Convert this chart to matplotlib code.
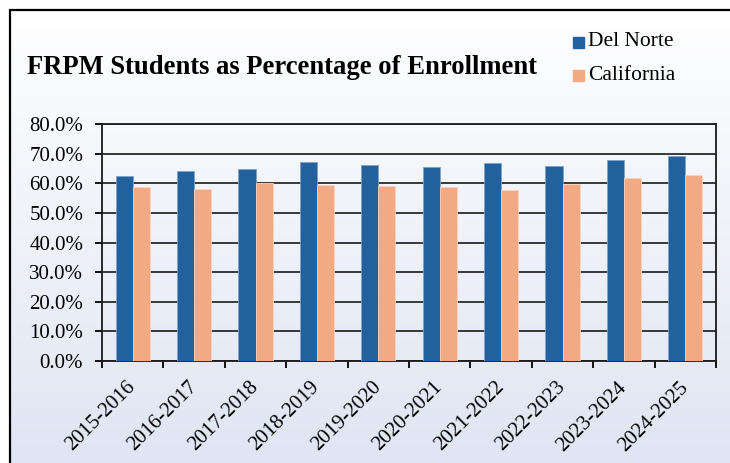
import numpy as np
import matplotlib
matplotlib.use("Agg")
import matplotlib.pyplot as plt
from matplotlib.patches import Rectangle
from matplotlib.colors import LinearSegmentedColormap

# data (percent)
years = ["2015-2016", "2016-2017", "2017-2018", "2018-2019", "2019-2020",
         "2020-2021", "2021-2022", "2022-2023", "2023-2024", "2024-2025"]
del_norte = [62.6, 64.1, 64.9, 67.2, 66.3, 65.4, 66.8, 65.8, 68.0, 69.1]
california = [58.9, 58.0, 60.0, 59.3, 59.2, 58.9, 57.8, 59.9, 61.7, 62.9]

blue = "#23609e"
peach = "#f2aa84"

plt.rcParams["font.family"] = ["Liberation Serif", "DejaVu Serif"]

W, H = 730, 463
fig = plt.figure(figsize=(W / 100, H / 100), dpi=100)

# gradient background inside the frame
bg = fig.add_axes([0, 0, 1, 1])
bg.set_xlim(0, W)
bg.set_ylim(H, 0)
bg.axis("off")
cmap = LinearSegmentedColormap.from_list("bg", ["#ffffff", "#dfe5f3"])
grad = np.linspace(0, 1, 256).reshape(-1, 1)
bg.imshow(grad, cmap=cmap, extent=[10, W, H, 10], aspect="auto", zorder=0)
bg.plot([10, 10, W], [H, 10, 10], color="black", lw=1.6, zorder=1,
        solid_capstyle="butt", solid_joinstyle="miter")

# plot area in pixels: left 102, right 716, top 124, bottom 361
ax = fig.add_axes([102 / W, 1 - 361 / H, (716 - 102) / W, (361 - 124) / H])
ax.patch.set_alpha(0)

x = np.arange(len(years))
bw = 0.28
ax.bar(x - bw / 2, del_norte, bw, color=blue, edgecolor="#7fa3c9",
       linewidth=0.6, zorder=3)
ax.bar(x + bw / 2, california, bw, color=peach, edgecolor="#f8d3c0",
       linewidth=0.6, zorder=3)

ax.set_xlim(-0.5, len(years) - 0.5)
ax.set_ylim(0, 80)
ax.set_yticks(np.arange(0, 81, 10))
ax.set_yticklabels(["%.1f%%" % v for v in np.arange(0, 81, 10)], fontsize=15)
ax.yaxis.grid(True, color="#2a2a2a", lw=1.3, zorder=1)
ax.set_axisbelow(True)

ax.set_xticks(np.arange(-0.5, len(years), 1.0))
ax.set_xticklabels([])
ax.set_xticks(x, minor=True)
ax.set_xticklabels(years, minor=True, rotation=45, ha="right", va="center",
                   rotation_mode="anchor", fontsize=15)
ax.tick_params(axis="x", which="minor", length=0, pad=17)
ax.tick_params(axis="x", which="major", length=5, width=1.3, direction="out")
ax.tick_params(axis="y", length=5, width=1.3, direction="out", pad=8.5)
for s in ax.spines.values():
    s.set_color("#1a1a1a")
    s.set_linewidth(1.3)

fig.text(27 / W, 1 - 68 / H, "FRPM Students as Percentage of Enrollment",
         fontsize=19.2, fontweight="bold", ha="left", va="center")

# legend
for i, (lab, col) in enumerate([("Del Norte", blue), ("California", peach)]):
    yc = 42 + i * 33
    bg.add_patch(Rectangle((573, yc - 5.5), 11, 11, color=col, zorder=2))
    bg.text(588, yc, lab, fontsize=15.5, ha="left", va="center", zorder=2)

fig.savefig("out.png", dpi=100)
